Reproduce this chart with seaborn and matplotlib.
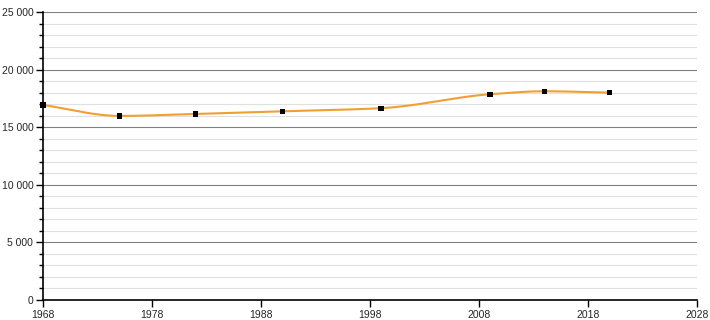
import numpy as np
import pandas as pd
import matplotlib
matplotlib.use("Agg")
import matplotlib.pyplot as plt
from matplotlib.ticker import MultipleLocator, FuncFormatter
import seaborn as sns

years = [1968, 1975, 1982, 1990, 1999, 2009, 2014, 2020]
population = [16930, 15980, 16150, 16380, 16650, 17860, 18120, 18000]
x_ticks = [1968, 1978, 1988, 1998, 2008, 2018, 2028]

sns.set_style("white")
plt.rcParams['font.family'] = ['Liberation Sans', 'DejaVu Sans']

df = pd.DataFrame({"year": years, "pop": population})

def pchip(x, y, xs):
    x = np.asarray(x, float); y = np.asarray(y, float)
    h = np.diff(x); d = np.diff(y) / h
    n = len(x); m = np.zeros(n)
    for k in range(1, n - 1):
        if d[k-1] * d[k] > 0:
            w1 = 2*h[k] + h[k-1]; w2 = h[k] + 2*h[k-1]
            m[k] = (w1 + w2) / (w1/d[k-1] + w2/d[k])
    m[0] = d[0]; m[-1] = d[-1]
    out = np.empty_like(xs)
    for i, xv in enumerate(xs):
        k = min(np.searchsorted(x, xv, side='right') - 1, n - 2)
        t = (xv - x[k]) / h[k]
        h00 = 2*t**3 - 3*t**2 + 1; h10 = t**3 - 2*t**2 + t
        h01 = -2*t**3 + 3*t**2; h11 = t**3 - t**2
        out[i] = h00*y[k] + h10*h[k]*m[k] + h01*y[k+1] + h11*h[k]*m[k+1]
    return out

xs = np.linspace(years[0], years[-1], 400)
smooth = pd.DataFrame({"year": xs, "pop": pchip(years, population, xs)})

fig = plt.figure(figsize=(7.1, 3.2), dpi=100)
ax = fig.add_axes([43/710, 20/320, 654/710, 288/320])

ax.yaxis.set_minor_locator(MultipleLocator(1000))
ax.yaxis.set_major_locator(MultipleLocator(5000))
ax.grid(which='minor', axis='y', color='#e0e0e0', linewidth=0.8, zorder=0)
ax.grid(which='major', axis='y', color='#808080', linewidth=0.8, zorder=0)
ax.set_axisbelow(True)

sns.lineplot(data=smooth, x="year", y="pop", ax=ax, color='#f0a030',
             linewidth=1.5, zorder=3)
sns.scatterplot(data=df, x="year", y="pop", ax=ax, color='black', marker='s',
                s=15, edgecolor='none', zorder=4, clip_on=False)

ax.set_xlim(1968, 2028)
ax.set_ylim(0, 25000)
ax.set_xticks(x_ticks)
ax.yaxis.set_major_formatter(FuncFormatter(lambda v, p: f"{int(v):,}".replace(",", " ")))
ax.set_xlabel("")
ax.set_ylabel("")
for s in ['top', 'right']:
    ax.spines[s].set_visible(False)
for s in ['left', 'bottom']:
    ax.spines[s].set_color('black')
    ax.spines[s].set_linewidth(1.2)
ax.tick_params(axis='both', which='major', direction='out', length=5, width=1,
               color='black', labelsize=7.5, pad=2, left=True, bottom=True)
ax.tick_params(axis='y', which='minor', direction='out', length=3, width=1,
               color='black', left=True)

fig.savefig("out.png", dpi=100)
